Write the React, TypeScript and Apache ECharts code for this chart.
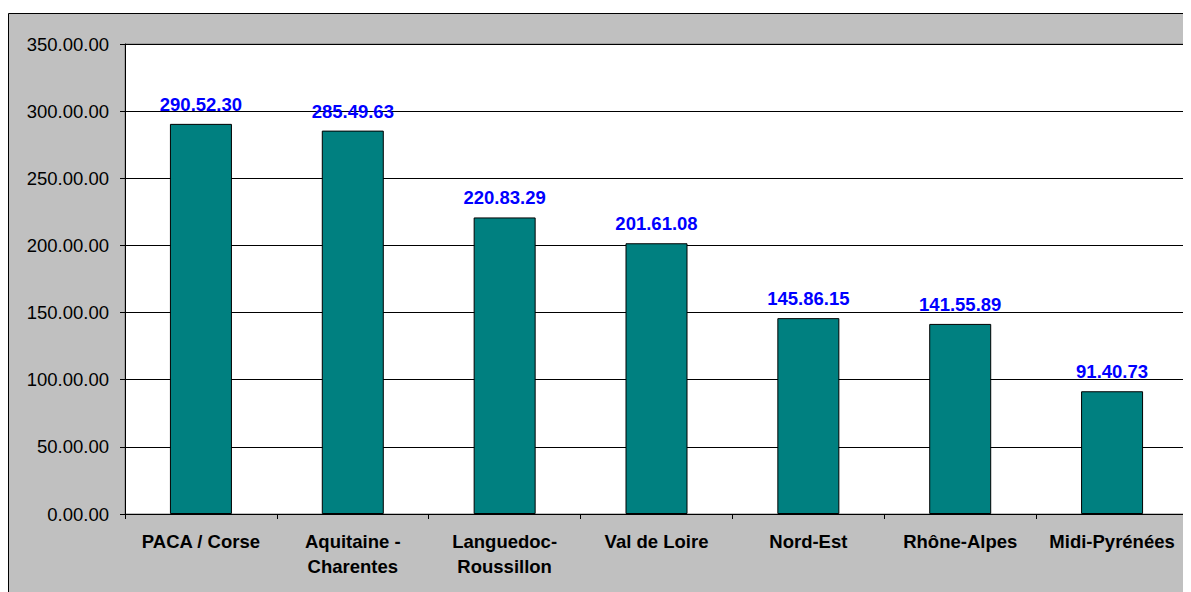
import React, { useEffect, useRef } from "react";
import * as echarts from "echarts";

const categories = [
  "PACA / Corse",
  "Aquitaine -\nCharentes",
  "Languedoc-\nRoussillon",
  "Val de Loire",
  "Nord-Est",
  "Rhône-Alpes",
  "Midi-Pyrénées",
];
const values = [290.523, 285.4963, 220.8329, 201.6108, 145.8615, 141.5589, 91.4073];
const valueLabels = [
  "290.52.30",
  "285.49.63",
  "220.83.29",
  "201.61.08",
  "145.86.15",
  "141.55.89",
  "91.40.73",
];
const yTicks = [0, 50, 100, 150, 200, 250, 300, 350];

const FONT = "Arial, 'Liberation Sans', sans-serif";

export default function App() {
  const ref = useRef<HTMLDivElement>(null);
  useEffect(() => {
    if (!ref.current) return;
    const chart = echarts.init(ref.current, undefined, { renderer: "svg" });
    chart.setOption({
      animation: false,
      backgroundColor: "#ffffff",
      graphic: [
        {
          type: "rect",
          z: -10,
          silent: true,
          shape: { x: 0.5, y: 5.5, width: 1220, height: 620 },
          style: { fill: "#c0c0c0", stroke: "#000000", lineWidth: 1 },
        },
      ],
      grid: {
        left: 117,
        top: 36,
        right: 3,
        bottom: 78,
        show: true,
        backgroundColor: "#ffffff",
        borderColor: "#808080",
        borderWidth: 1,
        containLabel: false,
      },
      xAxis: {
        type: "category",
        data: categories,
        axisLine: { show: true, lineStyle: { color: "#000", width: 1 } },
        axisTick: { show: true, alignWithLabel: false, length: 5, lineStyle: { color: "#000" } },
        axisLabel: {
          interval: 0,
          color: "#000",
          fontFamily: FONT,
          fontWeight: "bold",
          fontSize: 18.5,
          lineHeight: 25,
          margin: 15,
        },
        splitLine: { show: false },
      },
      yAxis: {
        type: "value",
        min: 0,
        max: 350,
        interval: 50,
        axisLine: { show: true, lineStyle: { color: "#000", width: 1 } },
        axisTick: { show: true, length: 5, lineStyle: { color: "#000" } },
        axisLabel: {
          color: "#000",
          fontFamily: FONT,
          fontSize: 18.5,
          margin: 16,
          formatter: (v: number) => (yTicks.includes(v) ? v.toFixed(2) + ".00" : ""),
        },
        splitLine: { show: true, lineStyle: { color: "#000", width: 1 } },
      },
      series: [
        {
          type: "bar",
          data: values,
          barWidth: 62,
          itemStyle: { color: "#008080", borderColor: "#000", borderWidth: 1 },
          label: {
            show: true,
            position: "top",
            distance: 10,
            color: "#0000ff",
            fontFamily: FONT,
            fontWeight: "bold",
            fontSize: 18.5,
            formatter: (p: any) => valueLabels[p.dataIndex],
          },
        },
      ],
    });
    return () => chart.dispose();
  }, []);
  return <div ref={ref} style={{ width: 1183, height: 584 }} />;
}
